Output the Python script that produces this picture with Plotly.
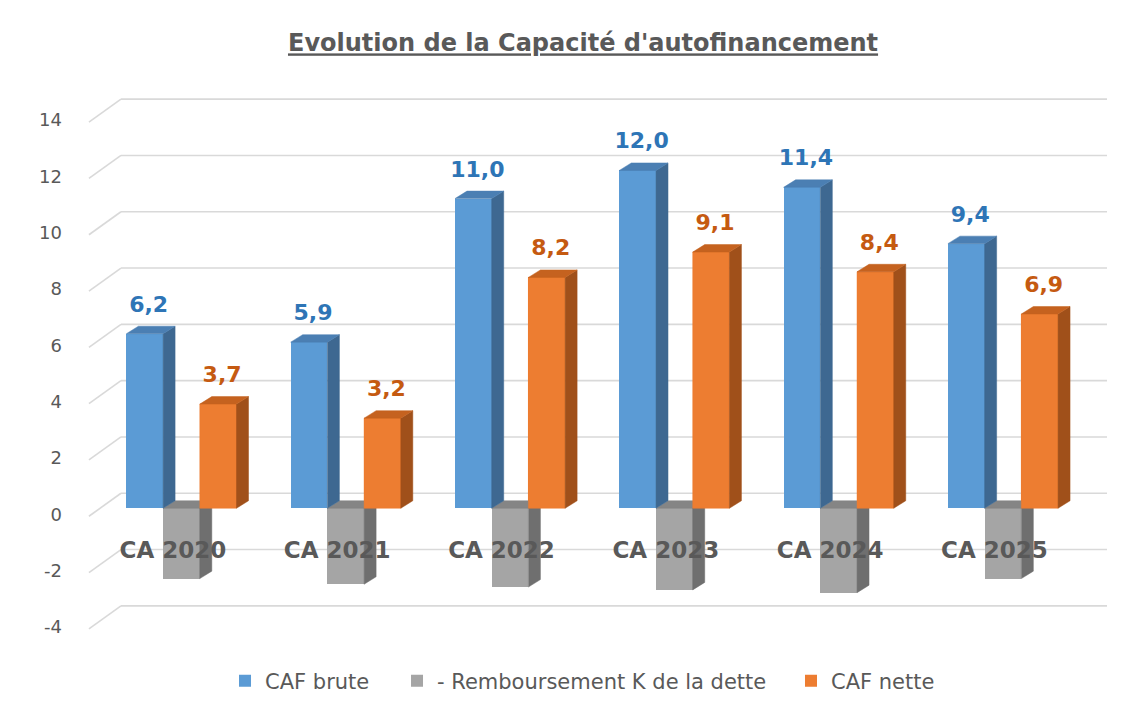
import plotly.graph_objects as go

# ---------------- data ----------------
categories = ["CA 2020", "CA 2021", "CA 2022", "CA 2023", "CA 2024", "CA 2025"]
caf_brute = [6.2, 5.9, 11.0, 12.0, 11.4, 9.4]
remboursement = [-2.5, -2.7, -2.8, -2.9, -3.0, -2.5]
caf_nette = [3.7, 3.2, 8.2, 9.1, 8.4, 6.9]
y_ticks = [-4, -2, 0, 2, 4, 6, 8, 10, 12, 14]
series_names = ["CAF brute", "- Remboursement K de la dette", "CAF nette"]
title_text = "Evolution de la Capacité d'autofinancement"

# ---------------- style / geometry ----------------
FONT = "DejaVu Sans"
TXT = "#595959"
GRID = "#D9D9D9"
X_RANGE = [-0.587, 5.633]
Y_RANGE = [-4.645, 15.035]
BAR_W = 0.2234          # front face width (x units)
DX, DY = 0.073, 0.266   # 3D depth offsets
GRID_DY = 0.532         # back wall offset
DIAG_DY = -0.284        # front end of wall diagonals
WALL_X0, DIAG_X0 = -0.368, -0.563
LEGEND_X = [0.137, 0.3053, 0.6908]

colors = {
    "front": ["#5B9BD5", "#A5A5A5", "#ED7D31"],
    "side": ["#3E6891", "#6F6F6F", "#A0501A"],
    "top": ["#4B7FB3", "#858585", "#C5621F"],
}
label_colors = ["#2E75B6", None, "#C55A11"]

series_vals = [caf_brute, remboursement, caf_nette]
offsets = [-BAR_W, 0.0, BAR_W]
idx = list(range(len(categories)))
legend_ids = ["legend", "legend2", "legend3"]

fig = go.Figure()

# front faces (bars, also give the legend)
for k, (name, vals) in enumerate(zip(series_names, series_vals)):
    fig.add_trace(go.Bar(
        x=[i + offsets[k] for i in idx], y=vals, width=BAR_W, name=name,
        marker=dict(color=colors["front"][k], line=dict(width=0)),
        hoverinfo="skip", showlegend=True, legend=legend_ids[k],
    ))


def polys(k, part):
    xs, ys = [], []
    for i, v in zip(idx, series_vals[k]):
        x0 = i + offsets[k] - BAR_W / 2
        x1 = x0 + BAR_W
        top = max(0.0, v)
        low = min(0.0, v)
        if part == "top":
            px = [x0, x1, x1 + DX, x0 + DX, x0]
            py = [top, top, top + DY, top + DY, top]
        elif part == "side":
            px = [x1, x1, x1 + DX, x1 + DX, x1]
            py = [low, top, top + DY, low + DY, low]
        else:  # front
            px = [x0, x1, x1, x0, x0]
            py = [low, low, top, top, low]
        xs += px + [None]
        ys += py + [None]
    return xs, ys


def add_poly(k, part):
    xs, ys = polys(k, part)
    col = colors[part][k]
    fig.add_trace(go.Scatter(
        x=xs, y=ys, mode="lines", fill="toself", fillcolor=col,
        line=dict(width=0.5, color=col), hoverinfo="skip", showlegend=False,
    ))


# draw order: gray faces, blue faces, orange (front cover) faces
add_poly(1, "top")
add_poly(1, "side")
add_poly(0, "side")
add_poly(0, "top")
add_poly(2, "front")
add_poly(2, "side")
add_poly(2, "top")

# data labels
for k in (0, 2):
    vals = series_vals[k]
    fig.add_trace(go.Scatter(
        x=[i + offsets[k] + 0.024 for i in idx], y=[v + 0.98 for v in vals],
        mode="text", text=[f"{v:.1f}".replace(".", ",") for v in vals],
        textposition="middle center",
        textfont=dict(family=FONT, size=22, color=label_colors[k], weight="bold"),
        hoverinfo="skip", showlegend=False,
    ))

# category labels
fig.add_trace(go.Scatter(
    x=[i - 0.052 for i in idx], y=[-1.56] * len(idx), mode="text",
    text=categories, textposition="middle center",
    textfont=dict(family=FONT, size=23, color=TXT, weight="bold"),
    hoverinfo="skip", showlegend=False,
))

# back wall gridlines with the left diagonal
shapes = []
for t in y_ticks:
    shapes.append(dict(type="line", xref="x", yref="y", layer="below",
                       x0=WALL_X0, x1=X_RANGE[1], y0=t + GRID_DY, y1=t + GRID_DY,
                       line=dict(color=GRID, width=1.6)))
    shapes.append(dict(type="line", xref="x", yref="y", layer="below",
                       x0=DIAG_X0, x1=WALL_X0, y0=t + DIAG_DY, y1=t + GRID_DY,
                       line=dict(color=GRID, width=1.6)))

legend_style = dict(orientation="h", xref="paper", xanchor="left",
                    y=-0.074, yanchor="middle",
                    font=dict(family=FONT, size=21, color=TXT),
                    bgcolor="rgba(0,0,0,0)")

fig.update_layout(
    width=1131, height=712,
    margin=dict(l=85, r=24, t=85, b=72),
    paper_bgcolor="white", plot_bgcolor="white",
    barmode="overlay", bargap=0,
    shapes=shapes,
    title=dict(
        text=f"<u>{title_text}</u>", xref="container", yref="container",
        x=0.5155, y=0.9396, xanchor="center", yanchor="middle",
        font=dict(family=FONT, size=24, color=TXT, weight="bold"),
    ),
    xaxis=dict(range=X_RANGE, showgrid=False, zeroline=False, showline=False,
               showticklabels=False, ticks="", fixedrange=True),
    yaxis=dict(range=Y_RANGE, showgrid=False, zeroline=False, showline=False,
               tickvals=y_ticks, ticktext=[str(t) for t in y_ticks],
               tickfont=dict(family=FONT, size=18, color=TXT),
               ticks="", ticklabelstandoff=22, ticklabelshift=6, fixedrange=True),
    legend=dict(x=LEGEND_X[0], **legend_style),
    legend2=dict(x=LEGEND_X[1], **legend_style),
    legend3=dict(x=LEGEND_X[2], **legend_style),
    showlegend=True,
)

fig.write_html("out.html", config={"displayModeBar": False},
               post_script="document.body.style.margin='0';")
